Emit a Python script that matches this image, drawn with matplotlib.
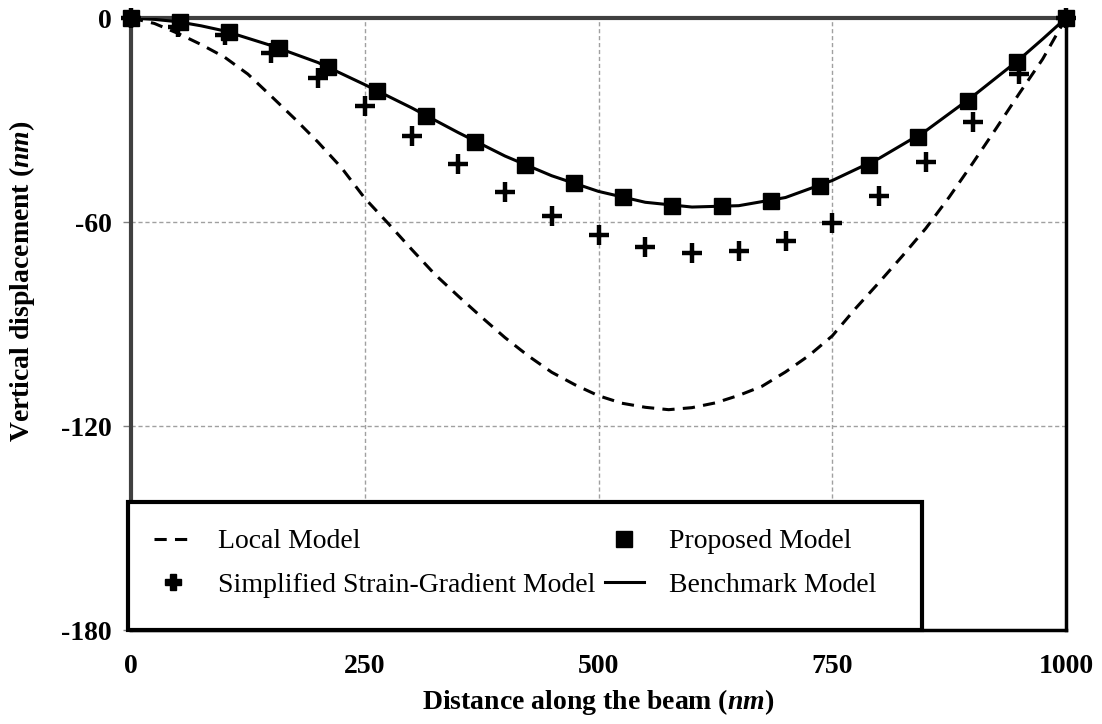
import matplotlib
matplotlib.use('Agg')
import matplotlib.pyplot as plt
from matplotlib.lines import Line2D
from matplotlib.patches import Rectangle

plt.rcParams['font.family'] = 'Liberation Serif'
plt.rcParams['mathtext.fontset'] = 'custom'
plt.rcParams['mathtext.it'] = 'Liberation Serif:italic:bold'
plt.rcParams['mathtext.rm'] = 'Liberation Serif:bold'

###############################################
### data
x_local = [0, 25, 50, 75, 100, 125, 150, 175, 200, 225, 250, 275, 300, 325, 350,
           375, 400, 425, 450, 475, 500, 525, 550, 575, 600, 625, 650, 675, 700,
           725, 750, 775, 800, 825, 850, 875, 900, 925, 950, 975, 1000]
y_local = [0, -1.6, -4.5, -7.8, -11.5, -16.5, -23, -29.6, -36.5, -44, -53, -60.4, -68,
           -75.4, -81.8, -88, -94, -99.4, -104.2, -107.9, -111.1, -113.3, -114.5,
           -115.2, -114.6, -113.2, -111, -108.3, -104.1, -99.3, -93.5, -85.4, -77.8,
           -70, -61.9, -52.7, -42.8, -32.6, -22.2, -12.1, 0]

x_simpl = [0, 50, 100, 150, 200, 250, 300, 350, 400, 450,
           500, 550, 600, 650, 700, 750, 800, 850, 900, 950, 1000]
y_simpl = [0, -2.6, -5, -10.4, -17.7, -25.9, -34.6, -43, -51.2, -58.2,
           -63.8, -67.4, -69.1, -68.5, -65.6, -60.2, -52.4, -42.4, -30.6, -16.5, 0]

x_prop = [0, 52.6, 105.3, 157.9, 210.5, 263.2, 315.8, 368.4, 421.1, 473.7,
          526.3, 578.9, 631.6, 684.2, 736.8, 789.5, 842.1, 894.7, 947.4, 1000]
y_prop = [0, -1.2, -4.1, -8.8, -14.3, -21.4, -28.7, -36.4, -43.2, -48.6,
          -52.7, -55.3, -55.3, -53.8, -49.4, -43.2, -35, -24.4, -12.9, 0]

x_bench = [0, 25, 50, 75, 100, 150, 200, 250, 300, 350, 400, 450, 500,
           550, 600, 650, 700, 750, 800, 850, 900, 950, 975, 1000]
y_bench = [0, -0.4, -1.1, -2.3, -3.8, -8.1, -13.1, -19.6, -26.4, -33.7, -40.6, -46.4, -51,
           -54.2, -55.6, -55.2, -52.8, -47.8, -41.3, -33.2, -23.1, -12.2, -6.2, 0]

x_ticks = [0, 250, 500, 750, 1000]
y_ticks = [0, -60, -120, -180]
labels = ['Local Model', 'Simplified Strain-Gradient Model',
          'Proposed Model', 'Benchmark Model']
###############################################

fig = plt.figure(figsize=(11.02, 7.24), dpi=100)
ax = fig.add_axes([131/1102, 1 - 630/724, 935/1102, 612/724])

ax.plot(x_local, y_local, color='black', lw=2.2, ls='--', dashes=(4, 2.7), zorder=3)
ax.plot(x_simpl, y_simpl, ls='none', marker='+', ms=14, mew=3.2, color='black',
        clip_on=False, zorder=4)
ax.plot(x_bench, y_bench, color='black', lw=2.2, zorder=4)
ax.plot(x_prop, y_prop, ls='none', marker='s', ms=11, color='black',
        clip_on=False, zorder=5)

ax.set_xlim(0, 1000)
ax.set_ylim(-180, 0)
ax.set_xticks(x_ticks)
ax.set_yticks(y_ticks)
ax.set_xticklabels([str(t) for t in x_ticks], fontsize=20, fontweight='bold')
ax.set_yticklabels([str(t) for t in y_ticks], fontsize=20, fontweight='bold')
ax.tick_params(axis='x', length=0, pad=17)
ax.tick_params(axis='y', length=6, width=1, color='#808080', pad=8)

ax.grid(True, color='#a0a0a0', ls=(0, (3, 2)), lw=1)
ax.set_axisbelow(True)

ax.spines['top'].set_color('#404040')
ax.spines['top'].set_linewidth(3)
ax.spines['left'].set_color('#404040')
ax.spines['left'].set_linewidth(3)
ax.spines['right'].set_color('black')
ax.spines['right'].set_linewidth(2.5)
ax.spines['bottom'].set_color('black')
ax.spines['bottom'].set_linewidth(2.5)

ax.set_xlabel(r'Distance along the beam ($\mathit{nm}$)', fontsize=20,
              fontweight='bold', labelpad=6)
ax.set_ylabel(r'Vertical displacement ($\mathit{nm}$)', fontsize=20,
              fontweight='bold')
ax.yaxis.set_label_coords(-0.10, 0.57)

### legend box
box = Rectangle((-0.003, 0), 0.849, 0.209, transform=ax.transAxes,
                facecolor='white', edgecolor='black', lw=3, clip_on=False, zorder=6)
ax.add_patch(box)

handles = [
    Line2D([], [], color='black', lw=2.2, ls='--', dashes=(4, 2.7)),
    Line2D([], [], ls='none', marker='P', ms=11, color='black'),
    Line2D([], [], ls='none', marker='s', ms=11, color='black'),
    Line2D([], [], color='black', lw=2.2),
]
leg = ax.legend(handles, labels, ncol=2, loc='center', mode='expand',
                bbox_to_anchor=(0.0096, 0.109, 0.802, 0), frameon=False,
                fontsize=20, borderpad=0, handlelength=1.4, handletextpad=0.9,
                labelspacing=0.65)
leg.set_zorder(7)

fig.savefig('out.png', dpi=100)
